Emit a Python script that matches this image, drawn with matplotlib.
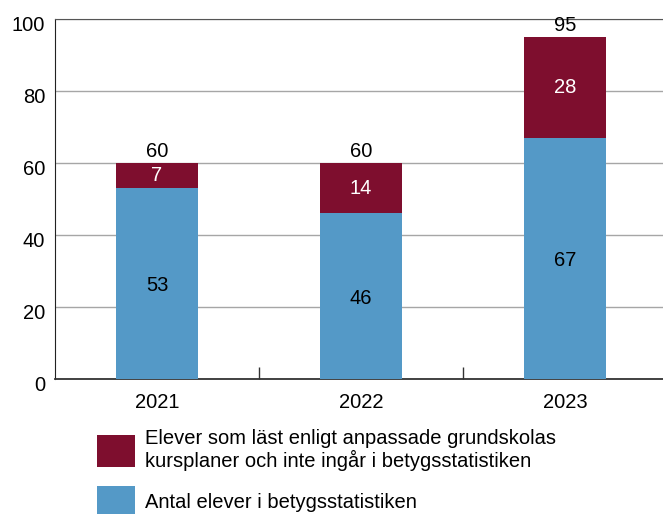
import matplotlib
matplotlib.use("Agg")
import matplotlib.pyplot as plt
from matplotlib.patches import Patch
import matplotlib.transforms as mtransforms
import numpy as np

plt.rcParams['font.family'] = ['Liberation Sans', 'DejaVu Sans']

years = ["2021", "2022", "2023"]
in_stats = [53, 46, 67]
not_in_stats = [7, 14, 28]
totals = [60, 60, 95]
yticks = [0, 20, 40, 60, 80, 100]

label_not = "Elever som läst enligt anpassade grundskolas\nkursplaner och inte ingår i betygsstatistiken"
label_in = "Antal elever i betygsstatistiken"

c_blue = "#5499c7"
c_red = "#7e0e2e"

FS = 14.5

fig = plt.figure(figsize=(6.63, 5.14), dpi=100)
ax = fig.add_axes([55/663, 1-379/514, 612/663, 360/514])

x = np.arange(len(years))
w = 0.4
ax.bar(x, in_stats, width=w, color=c_blue, zorder=3)
ax.bar(x, not_in_stats, width=w, bottom=in_stats, color=c_red, zorder=3)

for xi, v in zip(x, in_stats):
    ax.text(xi, v/2 - 0.6, str(v), ha='center', va='center', fontsize=FS, color='black', zorder=4)
for xi, b, v in zip(x, in_stats, not_in_stats):
    ax.text(xi, b + v/2, str(v), ha='center', va='center', fontsize=FS, color='white', zorder=4)
for xi, t in zip(x, totals):
    ax.text(xi, t + 0.6, str(t), ha='center', va='bottom', fontsize=FS, color='black', zorder=4)

ax.set_xlim(-0.5, 2.5)
ax.set_ylim(0, 100)
ax.set_yticks(yticks)
ax.set_yticklabels([str(v) for v in yticks], fontsize=FS)
ax.tick_params(axis='y', length=0, pad=7)
offset = mtransforms.ScaledTranslation(0, -4.5/100, fig.dpi_scale_trans)
for lbl in ax.get_yticklabels():
    lbl.set_transform(lbl.get_transform() + offset)
ax.set_xticks(x)
ax.set_xticklabels(years, fontsize=FS)
ax.tick_params(axis='x', which='major', length=0, pad=10)
ax.set_xticks([0.5, 1.5], minor=True)
ax.tick_params(axis='x', which='minor', direction='in', length=9, width=1, color='#333333')

ax.grid(axis='y', color='#a6a6a6', linewidth=1, zorder=0)
ax.spines['right'].set_visible(False)
ax.spines['top'].set_color('#555555')
ax.spines['left'].set_color('#222222')
ax.spines['bottom'].set_color('#333333')
ax.spines['bottom'].set_linewidth(1.3)

handles = [Patch(facecolor=c_red, edgecolor='none', label=label_not),
           Patch(facecolor=c_blue, edgecolor='none', label=label_in)]
leg = fig.legend(handles=handles, loc='upper left', bbox_to_anchor=(97/663, 1-429/514),
                 frameon=False, prop={'size': FS}, handlelength=1.9, handleheight=2.1,
                 handletextpad=0.5, labelspacing=0.75, borderpad=0, borderaxespad=0)
for t in leg.get_texts():
    t.set_linespacing(1.1)

fig.savefig("out.png", dpi=100)
